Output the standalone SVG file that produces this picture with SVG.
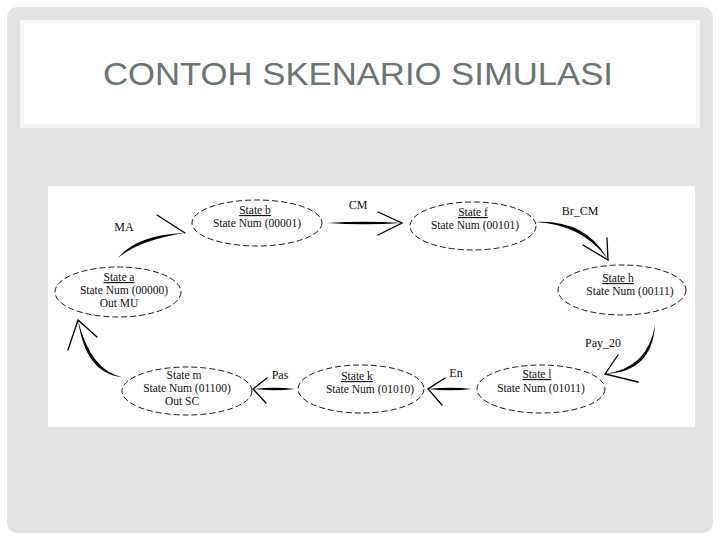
<svg xmlns="http://www.w3.org/2000/svg" width="720" height="540" viewBox="0 0 720 540">
<style>
.node ellipse{fill:none;stroke:#000;stroke-width:0.9;stroke-dasharray:6 3}
.t{font-family:"Liberation Serif","Times New Roman",serif;font-size:11.5px;fill:#111;text-anchor:middle}
.u{text-decoration:underline}
.shaft{fill:#000;stroke:none}
.barb{fill:none;stroke:#000;stroke-width:1.3;stroke-linecap:round}
.lbl{font-family:"Liberation Serif","Times New Roman",serif;font-size:12px;fill:#111;text-anchor:middle}
</style>
<rect x="0" y="0" width="720" height="540" fill="#ffffff"/>
<rect x="7" y="7" width="706" height="526" rx="10" fill="#e3e3e3"/>
<rect x="20" y="20" width="680" height="108" fill="#f6f6f6"/>
<rect x="24" y="24" width="672" height="100" fill="#ffffff"/>
<text x="358" y="85" font-family="Liberation Sans, Arial, sans-serif" font-size="32" fill="#6b7571" text-anchor="middle" textLength="510" lengthAdjust="spacingAndGlyphs">CONTOH SKENARIO SIMULASI</text>
<rect x="48" y="186" width="647" height="241" fill="#ffffff"/>

<g id="connectors">
  <g id="e-ma">
    <path class="shaft" d="M118,258 Q139,240 185,233 Q137,234.5 118,258Z"/>
    <path class="barb" d="M157,215 L185,233"/>
    <text class="lbl" x="124" y="231">MA</text>
  </g>
  <g id="e-cm">
    <path class="shaft" d="M327,223 Q364.5,225.5 402,223 Q364.5,220.5 327,223Z"/>
    <path class="barb" d="M378,212 L402,223 L378,235"/>
    <text class="lbl" x="358" y="209">CM</text>
  </g>
  <g id="e-brcm">
    <path class="shaft" d="M535,222 Q583.6,224.7 608,260 Q586.4,219.3 535,222Z"/>
    <path class="barb" d="M583,245 L608,260 L607,238"/>
    <text class="lbl" x="580" y="215">Br_CM</text>
  </g>
  <g id="e-pay">
    <path class="shaft" d="M655,325 Q647.9,367.9 605,374 Q652.1,372.1 655,325Z"/>
    <path class="barb" d="M618,355 L605,374 L638,382"/>
    <text class="lbl" x="603" y="347">Pay_20</text>
  </g>
  <g id="e-en">
    <path class="shaft" d="M472,389 Q450,391.5 428,389 Q450,386.5 472,389Z"/>
    <path class="barb" d="M445,378 L428,389 L442,405"/>
    <text class="lbl" x="456" y="377">En</text>
  </g>
  <g id="e-pas">
    <path class="shaft" d="M295,389 Q274,391.5 253,389 Q274,386.5 295,389Z"/>
    <path class="barb" d="M267,378 L253,389 L266,403"/>
    <text class="lbl" x="280" y="379">Pas</text>
  </g>
  <g id="e-ma2">
    <path class="shaft" d="M122,377 Q90.4,370.2 78,320 Q85.6,373.8 122,377Z"/>
    <path class="barb" d="M68,350 L78,320 L97,337"/>
  </g>
</g>

<g id="state-a" class="node">
  <ellipse cx="118" cy="292" rx="63" ry="25"/>
  <text class="t u" x="119" y="281">State a</text>
  <text class="t" x="124" y="294">State Num (00000)</text>
  <text class="t" x="119" y="307">Out MU</text>
</g>
<g id="state-b" class="node">
  <ellipse cx="257" cy="223" rx="65" ry="23"/>
  <text class="t u" x="255" y="214">State b</text>
  <text class="t" x="257" y="227">State Num (00001)</text>
</g>
<g id="state-f" class="node">
  <ellipse cx="473" cy="226" rx="63" ry="24"/>
  <text class="t u" x="473" y="216">State f</text>
  <text class="t" x="475" y="229">State Num (00101)</text>
</g>
<g id="state-h" class="node">
  <ellipse cx="622" cy="290" rx="64" ry="25"/>
  <text class="t u" x="618" y="282">State h</text>
  <text class="t" x="630" y="295">State Num (00111)</text>
</g>
<g id="state-l" class="node">
  <ellipse cx="541" cy="389" rx="64" ry="24"/>
  <text class="t u" x="537" y="378">State l</text>
  <text class="t" x="541" y="392">State Num (01011)</text>
</g>
<g id="state-k" class="node">
  <ellipse cx="361" cy="389" rx="63" ry="24"/>
  <text class="t u" x="357" y="380">State k</text>
  <text class="t" x="370" y="393">State Num (01010)</text>
</g>
<g id="state-m" class="node">
  <ellipse cx="187" cy="391" rx="65" ry="24"/>
  <text class="t" x="184" y="379">State m</text>
  <text class="t" x="187" y="392">State Num (01100)</text>
  <text class="t" x="182" y="405">Out SC</text>
</g>
</svg>
